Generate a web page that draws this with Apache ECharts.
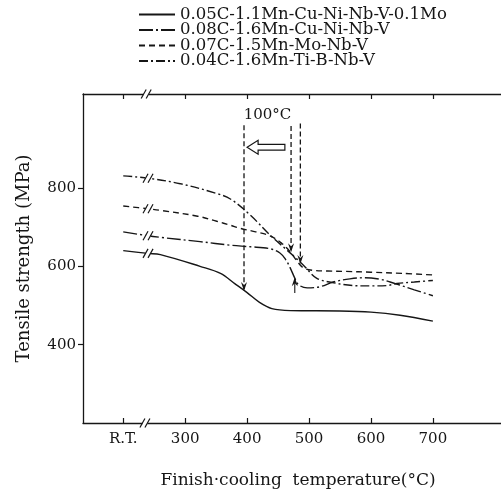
<!DOCTYPE html>
<html>
<head>
<meta charset="utf-8">
<script src="https://cdn.jsdelivr.net/npm/echarts@6/dist/echarts.min.js"></script>
<style>
  html, body { margin: 0; padding: 0; background: #fff; }
  #chart { width: 501px; height: 494px; }
</style>
</head>
<body>
<div id="chart"></div>
<script>
// Alloy designations
const alloyNames = [
  '0.05C-1.1Mn-Cu-Ni-Nb-V-0.1Mo',
  '0.08C-1.6Mn-Cu-Ni-Nb-V',
  '0.07C-1.5Mn-Mo-Nb-V',
  '0.04C-1.6Mn-Ti-B-Nb-V'
];

// Room temperature sits at 200 on the temperature scale; the axis is broken at 240
const rtPos = 200;
const breakPos = 240;
const xTickValues = [200, 300, 400, 500, 600, 700];
const yTickValues = [400, 600, 800];

// Finish-cooling temperature (°C) and tensile strength (MPa) per alloy
const temp1 = [200, 240, 260, 324, 357, 380, 400, 420, 440, 470, 550, 600, 647, 700];
const ts1   = [640, 633, 630, 600, 582, 556, 533, 508, 492, 487, 486, 483, 475, 460];

const temp2 = [200, 240, 260, 324, 373, 405, 437, 453, 462, 469, 477, 483, 497, 518, 539, 566, 590, 615, 631, 645, 670, 700];
const ts2   = [688, 678, 674, 663, 654, 650, 645, 634, 618, 598, 570, 553, 545, 548, 560, 568, 571, 567, 560, 553, 540, 525];

const temp3 = [200, 240, 260, 320, 351, 373, 389, 414, 437, 455, 470, 480, 490, 505, 530, 560, 600, 650, 700];
const ts3   = [754, 747, 743, 728, 715, 705, 697, 688, 678, 660, 636, 615, 597, 590, 588, 587, 585, 582, 578];

const temp4 = [200, 240, 292, 351, 373, 405, 437, 469, 491, 512, 540, 570, 600, 626, 642, 670, 700];
const ts4   = [831, 825, 811, 786, 772, 731, 680, 635, 603, 570, 558, 551, 550, 551, 556, 560, 564];

// Transformation-start guides: temperature, top of guide, strength at the arrow tip
const guideTemps = [395, 471, 486];
const guideTop   = [960, 958, 965];
const guideEnd   = [537, 636, 606];
// Upward marker on the 0.08C curve
const riseTemp = 477, riseFrom = 532, riseTo = 572;
// Hollow shift arrow and its label
const shiftFrom = 461, shiftTo = 400, shiftLevel = 904;
const shiftText = '100°C';
const shiftTextPos = [433, 985];

const INK = '#161616';
const FONT = 'DejaVu Serif';

const zip = (xs, ys) => xs.map((x, i) => [x, ys[i]]);
const valueAt = (xs, ys, x) => ys[xs.indexOf(x)];

const curveStyles = [
  { type: 'solid', width: 1.4 },
  { type: [14, 3, 2, 3], width: 1.4 },
  { type: [6, 4], width: 1.4 },
  { type: [9, 3, 2, 3], width: 1.4 }
];
const curveData = [zip(temp1, ts1), zip(temp2, ts2), zip(temp3, ts3), zip(temp4, ts4)];

const curveSeries = alloyNames.map((name, i) => ({
  name,
  type: 'line',
  data: curveData[i],
  smooth: 0.35,
  symbol: 'none',
  lineStyle: { color: INK, width: curveStyles[i].width, type: curveStyles[i].type },
  itemStyle: { color: INK },
  z: 3
}));

// Break marks on each curve and on both horizontal axes
const breakMarks = [
  [breakPos, valueAt(temp1, ts1, breakPos)],
  [breakPos, valueAt(temp2, ts2, breakPos)],
  [breakPos, valueAt(temp3, ts3, breakPos)],
  [breakPos, valueAt(temp4, ts4, breakPos)],
  [breakPos - 5, 200],
  [breakPos - 3, 1040]
];

function renderBreak(params, api) {
  const p = api.coord([api.value(0), api.value(1)]);
  const h = 4.5, lean = 2.5, half = 2.5;
  return {
    type: 'group',
    children: [
      { type: 'rect', shape: { x: p[0] - half, y: p[1] - 2.5, width: half * 2, height: 5 }, style: { fill: '#fff' } },
      { type: 'line', shape: { x1: p[0] - half - lean, y1: p[1] + h, x2: p[0] - half + lean, y2: p[1] - h }, style: { stroke: INK, lineWidth: 1.2 } },
      { type: 'line', shape: { x1: p[0] + half - lean, y1: p[1] + h, x2: p[0] + half + lean, y2: p[1] - h }, style: { stroke: INK, lineWidth: 1.2 } }
    ]
  };
}

function arrowHead(tip, dir) {
  // dir = +1 pointing down, -1 pointing up
  return {
    type: 'polygon',
    shape: { points: [[tip[0], tip[1]], [tip[0] - 3, tip[1] - dir * 9], [tip[0], tip[1] - dir * 6], [tip[0] + 3, tip[1] - dir * 9]] },
    style: { fill: INK }
  };
}

function renderGuides(params, api) {
  const children = [];
  guideTemps.forEach((t, i) => {
    const top = api.coord([t, guideTop[i]]);
    const end = api.coord([t, guideEnd[i]]);
    children.push({ type: 'line', shape: { x1: top[0], y1: top[1], x2: end[0], y2: end[1] - 2 },
      style: { stroke: INK, lineWidth: 1.3, lineDash: [5, 3] } });
    children.push(arrowHead(end, 1));
  });
  const r0 = api.coord([riseTemp, riseFrom]);
  const r1 = api.coord([riseTemp, riseTo]);
  children.push({ type: 'line', shape: { x1: r0[0], y1: r0[1], x2: r1[0], y2: r1[1] + 2 }, style: { stroke: INK, lineWidth: 1.1 } });
  children.push(arrowHead(r1, -1));

  // Hollow arrow pointing toward lower temperature
  const tail = api.coord([shiftFrom, shiftLevel]);
  const tip = api.coord([shiftTo, shiftLevel]);
  const shaft = 2.8, head = 7, headLen = 11;
  const y = tip[1];
  children.push({
    type: 'polygon',
    shape: { points: [
      [tip[0], y],
      [tip[0] + headLen, y - head],
      [tip[0] + headLen, y - shaft],
      [tail[0], y - shaft],
      [tail[0], y + shaft],
      [tip[0] + headLen, y + shaft],
      [tip[0] + headLen, y + head]
    ] },
    style: { fill: '#fff', stroke: INK, lineWidth: 1.2 }
  });
  const lp = api.coord(shiftTextPos);
  children.push({
    type: 'text', x: lp[0], y: lp[1],
    style: { text: shiftText, fill: INK, font: '15px "' + FONT + '"', align: 'center', verticalAlign: 'middle' }
  });
  return { type: 'group', children };
}

const chart = echarts.init(document.getElementById('chart'), null, { renderer: 'canvas' });

const xAxisCommon = {
  type: 'value',
  min: 135,
  max: 810,
  splitLine: { show: false },
  axisLine: { show: true, onZero: false, lineStyle: { color: INK, width: 1.3 } },
  axisTick: { show: true, inside: true, length: 5, customValues: xTickValues, lineStyle: { color: INK, width: 1.2 } }
};

chart.setOption({
  animation: false,
  backgroundColor: '#fff',
  textStyle: { fontFamily: FONT, color: INK },
  legend: {
    orient: 'vertical',
    left: 133,
    top: 1,
    itemWidth: 36,
    itemHeight: 12,
    itemGap: -1.5,
    selectedMode: false,
    data: alloyNames,
    itemStyle: { opacity: 0 },
    textStyle: { fontFamily: FONT, fontSize: 16.5, color: INK }
  },
  grid: { left: 83, right: 0, top: 94, bottom: 71, containLabel: false },
  xAxis: [
    Object.assign({}, xAxisCommon, {
      position: 'bottom',
      name: 'Finish·cooling  temperature(°C)',
      nameLocation: 'middle',
      nameGap: 49,
      nameTextStyle: { fontFamily: FONT, fontSize: 17, color: INK, padding: [0, 0, 0, 12] },
      axisLabel: {
        customValues: xTickValues,
        margin: 9,
        fontFamily: FONT,
        fontSize: 15,
        color: INK,
        formatter: v => (v === rtPos ? 'R.T.' : String(v))
      }
    }),
    Object.assign({}, xAxisCommon, {
      position: 'top',
      axisLabel: { show: false }
    })
  ],
  yAxis: {
    type: 'value',
    min: 200,
    max: 1040,
    splitLine: { show: false },
    name: 'Tensile strength (MPa)',
    nameLocation: 'middle',
    nameGap: 50,
    nameRotate: 90,
    nameTextStyle: { fontFamily: FONT, fontSize: 18, color: INK },
    axisLine: { show: true, lineStyle: { color: INK, width: 1.3 } },
    axisTick: { show: true, inside: false, length: 5, customValues: yTickValues, lineStyle: { color: INK, width: 1.2 } },
    axisLabel: { customValues: yTickValues, margin: 7, fontFamily: FONT, fontSize: 15, color: INK }
  },
  series: curveSeries.concat([
    {
      type: 'custom',
      name: 'breaks',
      data: breakMarks,
      renderItem: renderBreak,
      clip: false,
      silent: true,
      z: 5
    },
    {
      type: 'custom',
      name: 'guides',
      data: [[guideTemps[0], guideEnd[0]]],
      renderItem: renderGuides,
      clip: false,
      silent: true,
      z: 4
    }
  ])
});
</script>
</body>
</html>
